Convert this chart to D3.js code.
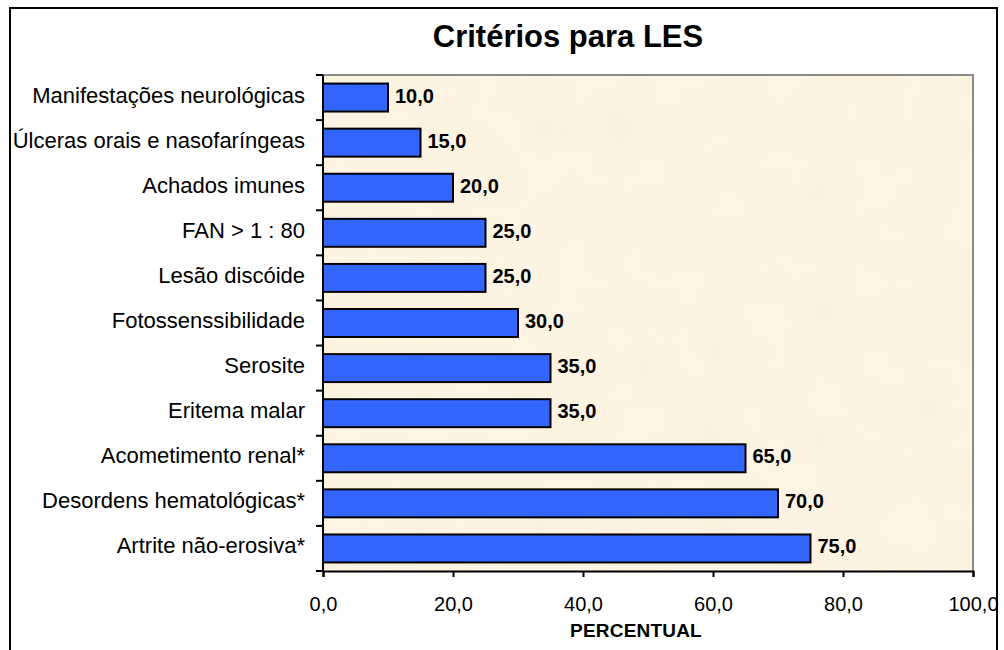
<!DOCTYPE html>
<html>
<head>
<meta charset="utf-8">
<script src="https://cdn.jsdelivr.net/npm/d3@7"></script>
<style>
  html, body { margin: 0; padding: 0; background: #fff; }
  svg { display: block; font-family: "Liberation Sans", Arial, sans-serif; }
</style>
</head>
<body>
<script>
const categories = [
  'Manifestações neurológicas',
  'Úlceras orais e nasofaríngeas',
  'Achados imunes',
  'FAN > 1 : 80',
  'Lesão discóide',
  'Fotossenssibilidade',
  'Serosite',
  'Eritema malar',
  'Acometimento renal*',
  'Desordens hematológicas*',
  'Artrite não-erosiva*'
];
const values = [10, 15, 20, 25, 25, 30, 35, 35, 65, 70, 75];
const xTicks = [0, 20, 40, 60, 80, 100];
const title = 'Critérios para LES';
const xTitle = 'PERCENTUAL';

const width = 1004, height = 650;
const margin = { top: 75, right: 32, bottom: 79, left: 323 };
const fmt = (v) => v.toFixed(1).replace('.', ',');

let svg = d3.select('body').append('svg')
  .attr('width', width)
  .attr('height', height);

// parchment-like texture for the plot area
let defs = svg.append('defs');
let filter = defs.append('filter').attr('id', 'paper')
  .attr('x', 0).attr('y', 0).attr('width', 1).attr('height', 1);
filter.append('feTurbulence')
  .attr('type', 'fractalNoise')
  .attr('baseFrequency', 0.02)
  .attr('numOctaves', 4)
  .attr('seed', 7)
  .attr('result', 'noise');
filter.append('feColorMatrix')
  .attr('in', 'noise')
  .attr('type', 'matrix')
  .attr('values', '0 0 0 0 0.96  0 0 0 0 0.87  0 0 0 0 0.70  0 0 0 1.1 -0.35')
  .attr('result', 'tint');
filter.append('feFlood').attr('flood-color', '#fdf4e4').attr('result', 'base');
filter.append('feComposite').attr('in', 'tint').attr('in2', 'base').attr('operator', 'over');

// outer frame
svg.append('rect')
  .attr('x', 10).attr('y', 8)
  .attr('width', 987).attr('height', 660)
  .attr('fill', 'none')
  .attr('stroke', '#000')
  .attr('stroke-width', 2);

let x = d3.scaleLinear()
  .domain([0, 100])
  .range([margin.left, margin.left + 650]);

let y = d3.scaleBand()
  .domain(categories)
  .range([margin.top, height - margin.bottom])
  .paddingInner(0.38)
  .paddingOuter(0.19);

let plotW = x(100) - x(0);
let plotH = height - margin.bottom - margin.top;

// plot background
svg.append('rect')
  .attr('x', x(0)).attr('y', margin.top)
  .attr('width', plotW).attr('height', plotH)
  .attr('filter', 'url(#paper)');
svg.append('path')
  .attr('d', `M${x(0)},${margin.top}H${x(100)}V${margin.top + plotH}`)
  .attr('fill', 'none')
  .attr('stroke', '#8c8c8c')
  .attr('stroke-width', 2);

// bars
svg.append('g').selectAll('rect')
  .data(values)
  .join('rect')
  .attr('x', x(0))
  .attr('y', (d, i) => y(categories[i]))
  .attr('width', (d) => x(d) - x(0))
  .attr('height', y.bandwidth())
  .attr('fill', '#3366ff')
  .attr('stroke', '#000')
  .attr('stroke-width', 2);

// value labels
svg.append('g').selectAll('text')
  .data(values)
  .join('text')
  .attr('x', (d) => x(d) + 7)
  .attr('y', (d, i) => y(categories[i]) + y.bandwidth() / 2 + 5)
  .attr('font-size', 20)
  .attr('font-weight', 'bold')
  .text(fmt);

// y axis: ticks between categories
let yAxis = svg.append('g');
yAxis.append('line')
  .attr('x1', x(0)).attr('x2', x(0))
  .attr('y1', margin.top).attr('y2', margin.top + plotH)
  .attr('stroke', '#000').attr('stroke-width', 2);
let step = plotH / categories.length;
yAxis.selectAll('.tk')
  .data(d3.range(categories.length + 1))
  .join('line')
  .attr('x1', x(0) - 7).attr('x2', x(0))
  .attr('y1', (i) => margin.top + i * step)
  .attr('y2', (i) => margin.top + i * step)
  .attr('stroke', '#000').attr('stroke-width', 2);
yAxis.selectAll('text')
  .data(categories)
  .join('text')
  .attr('x', x(0) - 18)
  .attr('y', (d) => y(d) + y.bandwidth() / 2 + 5)
  .attr('text-anchor', 'end')
  .attr('font-size', 22)
  .text((d) => d);

// x axis
let xAxis = svg.append('g')
  .attr('transform', `translate(0,${margin.top + plotH})`)
  .call(d3.axisBottom(x).tickValues(xTicks).tickSize(6).tickFormat(fmt));
xAxis.select('.domain').attr('stroke', '#000').attr('stroke-width', 2);
xAxis.selectAll('.tick line').attr('stroke', '#000').attr('stroke-width', 2);
xAxis.selectAll('.tick text')
  .attr('font-family', '"Liberation Sans", Arial, sans-serif')
  .attr('font-size', 20)
  .attr('fill', '#000')
  .attr('y', 26);

svg.append('text')
  .attr('x', 636)
  .attr('y', 637)
  .attr('text-anchor', 'middle')
  .attr('font-size', 19)
  .attr('font-weight', 'bold')
  .attr('letter-spacing', 0.2)
  .text(xTitle);

svg.append('text')
  .attr('x', 568)
  .attr('y', 47)
  .attr('text-anchor', 'middle')
  .attr('font-size', 31)
  .attr('font-weight', 'bold')
  .text(title);
</script>
</body>
</html>
